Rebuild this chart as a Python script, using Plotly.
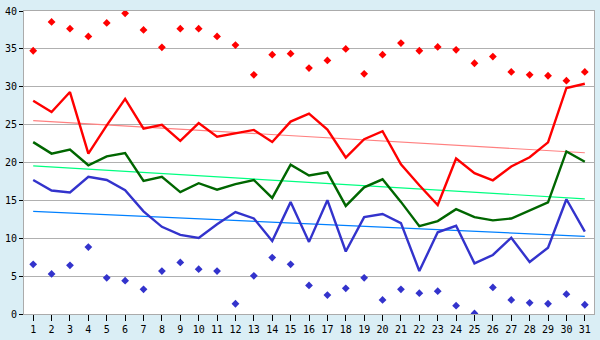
import plotly.graph_objects as go

days = list(range(1, 32))
tick_labels = [str(d) for d in days]

# daily maximum (points)
t_max = [34.75, 38.56, 37.67, 36.65, 38.43, 39.7, 37.5, 35.2, 37.67, 37.67,
         36.65, 35.5, 31.57, 34.24, 34.37, 32.47, 33.48, 35.0, 31.7, 34.24,
         35.77, 34.75, 35.26, 34.88, 33.1, 33.99, 31.96, 31.57, 31.45, 30.8, 31.96]
# upper line
t_high = [28.15, 26.67, 29.3, 21.17, 24.9, 28.4, 24.47, 24.97, 22.86, 25.2,
          23.4, 23.8, 24.3, 22.7, 25.4, 26.45, 24.34, 20.66, 23.07, 24.13,
          19.75, 17.0, 14.39, 20.53, 18.6, 17.65, 19.47, 20.7, 22.66, 29.84, 30.4]
# middle line
t_mid = [22.69, 21.17, 21.7, 19.64, 20.8, 21.25, 17.57, 18.1, 16.08, 17.27,
         16.42, 17.14, 17.69, 15.32, 19.7, 18.29, 18.7, 14.27, 16.72, 17.78,
         14.8, 11.6, 12.27, 13.84, 12.78, 12.36, 12.61, 13.63, 14.73, 21.46, 20.1]
# lower line
t_low = [17.69, 16.3, 16.04, 18.1, 17.69, 16.34, 13.55, 11.51, 10.45, 10.03,
         11.85, 13.46, 12.61, 9.65, 14.77, 9.52, 15.03, 8.25, 12.78, 13.2,
         12.0, 5.67, 10.79, 11.64, 6.69, 7.79, 10.07, 6.86, 8.76, 15.15, 10.88]
# daily minimum (points)
t_min = [6.56, 5.29, 6.43, 8.84, 4.78, 4.4, 3.26, 5.67, 6.81, 5.92,
         5.67, 1.35, 5.04, 7.45, 6.56, 3.77, 2.5, 3.39, 4.78, 1.86,
         3.26, 2.75, 3.01, 1.1, 0.08, 3.51, 1.86, 1.48, 1.35, 2.62, 1.22]

# long-term trend lines (value on first and last day)
trend_days = [1, 31]
trend_high = [25.52, 21.29]
trend_mid = [19.56, 15.2]
trend_low = [13.55, 10.25]

fig = go.Figure()

# trend lines
for vals, col in [(trend_high, "#FF8080"), (trend_mid, "#00FF80"), (trend_low, "#0080FF")]:
    fig.add_trace(go.Scatter(x=trend_days, y=vals, mode="lines",
                             line=dict(color=col, width=1.2), hoverinfo="skip"))

# main lines
for vals, col in [(t_high, "#FF0000"), (t_mid, "#006600"), (t_low, "#3333CC")]:
    fig.add_trace(go.Scatter(x=days, y=vals, mode="lines",
                             line=dict(color=col, width=2.4)))

# extremes
fig.add_trace(go.Scatter(x=days, y=t_max, mode="markers",
                         marker=dict(symbol="diamond", size=6, color="#FF0000")))
fig.add_trace(go.Scatter(x=days, y=t_min, mode="markers",
                         marker=dict(symbol="diamond", size=6, color="#3333CC")))

fig.update_layout(
    width=600, height=340,
    margin=dict(l=20, r=5, t=5, b=20),
    paper_bgcolor="#DAEEF5",
    plot_bgcolor="#FFFFFF",
    showlegend=False,
    font=dict(family="DejaVu Sans Mono", size=10, color="#000000"),
)
fig.update_xaxes(
    range=[0.5, 31.5], tickvals=days, ticktext=tick_labels,
    showgrid=False, zeroline=False,
    showline=True, linecolor="#ABABAB", linewidth=1, mirror=True,
    ticks="outside", ticklen=6, tickcolor="#000000", tickwidth=1,
)
fig.update_yaxes(
    range=[0, 40], tickvals=list(range(0, 41, 5)),
    showgrid=True, gridcolor="#B0B0B0", gridwidth=1, zeroline=False,
    showline=True, linecolor="#ABABAB", linewidth=1, mirror=True,
    ticks="outside", ticklen=4, tickcolor="#000000", tickwidth=1,
)

fig.write_html("out.html")
